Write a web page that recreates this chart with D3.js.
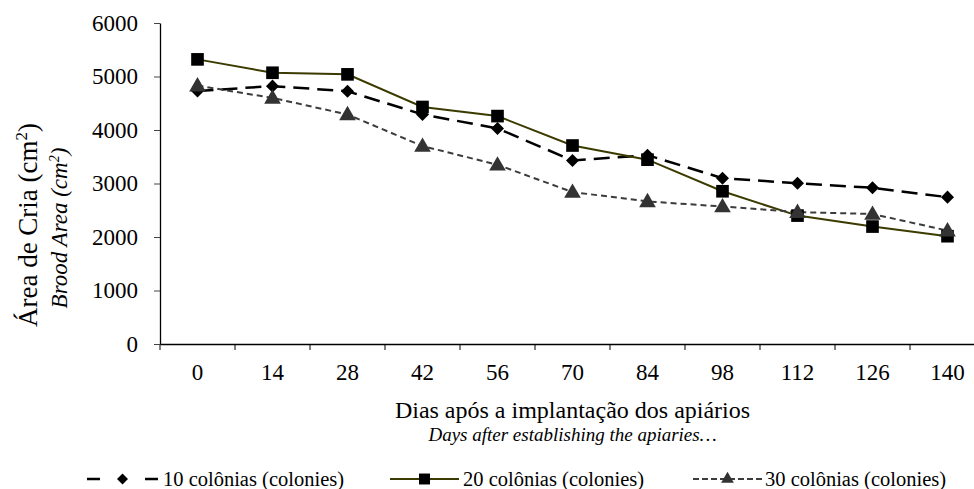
<!DOCTYPE html>
<html>
<head>
<meta charset="utf-8">
<script src="https://cdn.jsdelivr.net/npm/d3@7"></script>
<style>
  body { margin: 0; background: #fff; }
  svg text { font-family: "Liberation Serif", "Times New Roman", serif; }
</style>
</head>
<body>
<div id="chart"></div>
<script>
// days after establishing the apiaries
const days = ["0", "14", "28", "42", "56", "70", "84", "98", "112", "126", "140"];
const yTicks = [0, 1000, 2000, 3000, 4000, 5000, 6000];

// brood area (cm2) per group
const col10 = [4730, 4820, 4725, 4290, 4030, 3430, 3530, 3100, 3005, 2920, 2745];
const col20 = [5320, 5070, 5040, 4430, 4260, 3710, 3445, 2855, 2400, 2195, 2015];
const col30 = [4830, 4600, 4290, 3700, 3350, 2840, 2665, 2570, 2465, 2430, 2120];

const diamond = {
  draw(ctx, size) {
    const r = Math.sqrt(size / 2);
    ctx.moveTo(0, -r); ctx.lineTo(r, 0); ctx.lineTo(0, r); ctx.lineTo(-r, 0); ctx.closePath();
  }
};

const series = [
  { name: "10 colônias (colonies)", values: col10, color: "#000", width: 2.5, dash: "16,8", symbol: diamond, size: 85, mfill: "#000" },
  { name: "20 colônias (colonies)", values: col20, color: "#3b3b00", width: 2, dash: null, symbol: d3.symbolSquare, size: 160, mfill: "#000" },
  { name: "30 colônias (colonies)", values: col30, color: "#3c3c3c", width: 2, dash: "6,4", symbol: d3.symbolTriangle, size: 120, mfill: "#333" }
];

const W = 974, H = 489;
const serif = "Liberation Serif, Times New Roman, serif";

const svg = d3.select("#chart").append("svg")
  .attr("width", W).attr("height", H)
  .attr("font-family", serif);

const x = d3.scaleBand().domain(days).range([160, 985]);
const y = d3.scaleLinear().domain([0, 6000]).range([344, 23]);

// x axis
const gx = svg.append("g")
  .attr("transform", "translate(0,344)")
  .call(d3.axisBottom(x).tickSize(0).tickPadding(20));
gx.attr("font-family", serif);
gx.select(".domain").attr("stroke", "#000").attr("stroke-width", 1.3);
gx.selectAll(".tick line").remove();
gx.selectAll("text").attr("font-size", 23).attr("fill", "#000").style("font-family", serif);

// ticks at the category boundaries
const edges = d3.range(days.length + 1).map(i => 160 + i * x.step());
svg.append("path")
  .attr("d", edges.map(e => "M" + e + ",344v6").join(""))
  .attr("stroke", "#000").attr("stroke-width", 1).attr("fill", "none");

// y axis
const gy = svg.append("g")
  .attr("transform", "translate(160,0)")
  .call(d3.axisLeft(y).tickValues(yTicks).tickFormat(d3.format("d")).tickSize(6).tickPadding(16).tickSizeOuter(0));
gy.attr("font-family", serif);
gy.select(".domain").attr("stroke", "#000").attr("stroke-width", 1.3);
gy.selectAll(".tick line").attr("stroke", "#444");
gy.selectAll("text").attr("font-size", 23).attr("fill", "#000").style("font-family", serif);

// lines and markers
const line = d3.line()
  .x((d, i) => x(days[i]) + x.bandwidth() / 2)
  .y(d => y(d));

series.forEach(s => {
  svg.append("path")
    .datum(s.values)
    .attr("fill", "none")
    .attr("stroke", s.color)
    .attr("stroke-width", s.width)
    .attr("stroke-dasharray", s.dash)
    .attr("d", line);
});
series.forEach(s => {
  svg.append("g").selectAll("path")
    .data(s.values)
    .enter().append("path")
    .attr("d", d3.symbol().type(s.symbol).size(s.size))
    .attr("transform", (d, i) => "translate(" + (x(days[i]) + x.bandwidth() / 2) + "," + (y(d) + (s.symbol === d3.symbolTriangle ? 1 : 0)) + ")")
    .attr("fill", s.mfill);
});

// axis titles
const cx = (160 + 985) / 2;
svg.append("text").attr("x", cx).attr("y", 418).attr("text-anchor", "middle")
  .attr("font-size", 24).text("Dias após a implantação dos apiários");
svg.append("text").attr("x", cx).attr("y", 441).attr("text-anchor", "middle")
  .attr("font-size", 19).attr("font-style", "italic").text("Days after establishing the apiaries…");

const yt = svg.append("text").attr("transform", "translate(37,225) rotate(-90)")
  .attr("text-anchor", "middle").attr("font-size", 27);
yt.append("tspan").text("Área de Cria (cm");
yt.append("tspan").attr("font-size", 17).attr("dy", -10).text("2");
yt.append("tspan").attr("dy", 10).text(")");

const yt2 = svg.append("text").attr("transform", "translate(67,228) rotate(-90)")
  .attr("text-anchor", "middle").attr("font-size", 23).attr("font-style", "italic");
yt2.append("tspan").text("Brood Area (cm");
yt2.append("tspan").attr("font-size", 14).attr("dy", -8).text("2");
yt2.append("tspan").attr("dy", 8).text(")");

// legend
const legendPos = [
  { x0: 87, x1: 158, tx: 163, dash: "13,45", msize: 60 },
  { x0: 390, x1: 459, tx: 463, dash: null, msize: 120 },
  { x0: 693, x1: 762, tx: 765, dash: "6,3", msize: 70 }
];
const ly = 479;
series.forEach((s, i) => {
  const p = legendPos[i];
  const g = svg.append("g");
  g.append("line").attr("x1", p.x0).attr("x2", p.x1).attr("y1", ly).attr("y2", ly)
    .attr("stroke", s.color).attr("stroke-width", s.width)
    .attr("stroke-dasharray", p.dash);
  g.append("path")
    .attr("d", d3.symbol().type(s.symbol).size(p.msize))
    .attr("transform", "translate(" + (p.x0 + p.x1) / 2 + "," + ly + ")")
    .attr("fill", s.mfill);
  g.append("text").attr("x", p.tx).attr("y", ly + 7).attr("font-size", 20.5).text(s.name);
});
</script>
</body>
</html>
